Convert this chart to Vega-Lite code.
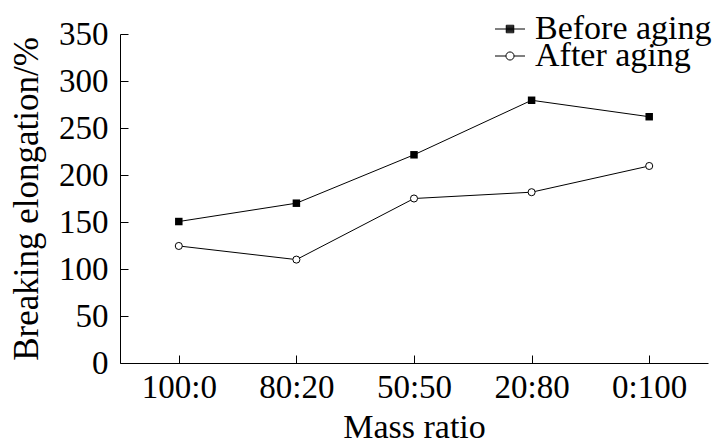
{
  "$schema": "https://vega.github.io/schema/vega-lite/v6.json",
  "width": 588,
  "height": 329,
  "autosize": "none",
  "padding": {"left": 120, "top": 34, "right": 6, "bottom": 85},
  "config": {
    "font": "'Liberation Serif', 'Times New Roman', serif",
    "view": {"stroke": null},
    "axis": {
      "domainColor": "black",
      "domainWidth": 1,
      "tickColor": "black",
      "tickWidth": 1,
      "tickSize": -8,
      "grid": false,
      "labelFont": "'Liberation Serif', 'Times New Roman', serif",
      "labelFontSize": 33,
      "labelColor": "black",
      "titleFont": "'Liberation Serif', 'Times New Roman', serif",
      "titleFontSize": 34,
      "titleFontWeight": "normal",
      "titleColor": "black"
    },
    "legend": {
      "title": null,
      "orient": "none",
      "padding": 0,
      "labelFontSize": 34,
      "labelFont": "'Liberation Serif', 'Times New Roman', serif",
      "labelColor": "black",
      "labelLimit": 0,
      "labelOffset": 8,
      "symbolSize": 900,
      "symbolOpacity": 1,
      "symbolStrokeColor": "black",
      "symbolFillColor": "transparent",
      "symbolStrokeWidth": 1
    }
  },
  "data": {
    "values": [
      {"ratio": "100:0", "series": "Before aging", "value": 150.5},
      {"ratio": "80:20", "series": "Before aging", "value": 170},
      {"ratio": "50:50", "series": "Before aging", "value": 221.5},
      {"ratio": "20:80", "series": "Before aging", "value": 279.5},
      {"ratio": "0:100", "series": "Before aging", "value": 262},
      {"ratio": "100:0", "series": "After aging", "value": 124.5},
      {"ratio": "80:20", "series": "After aging", "value": 110},
      {"ratio": "50:50", "series": "After aging", "value": 175},
      {"ratio": "20:80", "series": "After aging", "value": 181.7},
      {"ratio": "0:100", "series": "After aging", "value": 209.6}
    ]
  },
  "encoding": {
    "x": {
      "field": "ratio",
      "type": "ordinal",
      "sort": ["100:0", "80:20", "50:50", "20:80", "0:100"],
      "scale": {"type": "point", "padding": 0.5},
      "axis": {"title": "Mass ratio", "labelAngle": 0, "labelPadding": 16, "titlePadding": 6}
    },
    "y": {
      "field": "value",
      "type": "quantitative",
      "scale": {"domain": [0, 350], "nice": false},
      "axis": {"title": "Breaking elongation/%", "titleFontSize": 35, "values": [0, 50, 100, 150, 200, 250, 300, 350], "labelPadding": 20, "titlePadding": 14}
    }
  },
  "layer": [
    {
      "mark": {"type": "line", "color": "black", "strokeWidth": 1},
      "encoding": {"detail": {"field": "series", "type": "nominal"}}
    },
    {
      "transform": [{"filter": "datum.series === 'Before aging'"}],
      "mark": {"type": "point", "shape": "square", "filled": true, "color": "black", "size": 56, "opacity": 1}
    },
    {
      "transform": [{"filter": "datum.series === 'After aging'"}],
      "mark": {"type": "point", "shape": "circle", "filled": true, "fill": "white", "stroke": "black", "strokeWidth": 1, "size": 50, "opacity": 1}
    },
    {
      "transform": [{"filter": "datum.series === 'Before aging'"}],
      "mark": {"type": "point", "filled": false, "color": "black", "strokeWidth": 1, "size": 0, "opacity": 1},
      "encoding": {
        "shape": {
          "field": "series",
          "type": "nominal",
          "scale": {
            "domain": ["Before aging"],
            "range": [
              "M-1,0L1,0M-0.25,-0.25L0.25,-0.25L0.25,0.25L-0.25,0.25ZM-0.25,-0.18L0.25,-0.18M-0.25,-0.11L0.25,-0.11M-0.25,-0.04L0.25,-0.04M-0.25,0.04L0.25,0.04M-0.25,0.11L0.25,0.11M-0.25,0.18L0.25,0.18"
            ]
          },
          "legend": {"legendX": 373, "legendY": -22}
        }
      }
    },
    {
      "transform": [{"filter": "datum.series === 'After aging'"}],
      "mark": {"type": "point", "filled": false, "color": "black", "strokeWidth": 1, "size": 0, "opacity": 1},
      "encoding": {
        "shape": {
          "field": "series",
          "type": "nominal",
          "scale": {
            "domain": ["After aging"],
            "range": [
              "M-1,0L-0.27,0M0.27,0L1,0M0.27,0A0.27,0.27,0,1,1,-0.27,0A0.27,0.27,0,1,1,0.27,0Z"
            ]
          },
          "legend": {"legendX": 373, "legendY": 5}
        }
      }
    }
  ],
  "resolve": {"scale": {"shape": "independent"}}
}
